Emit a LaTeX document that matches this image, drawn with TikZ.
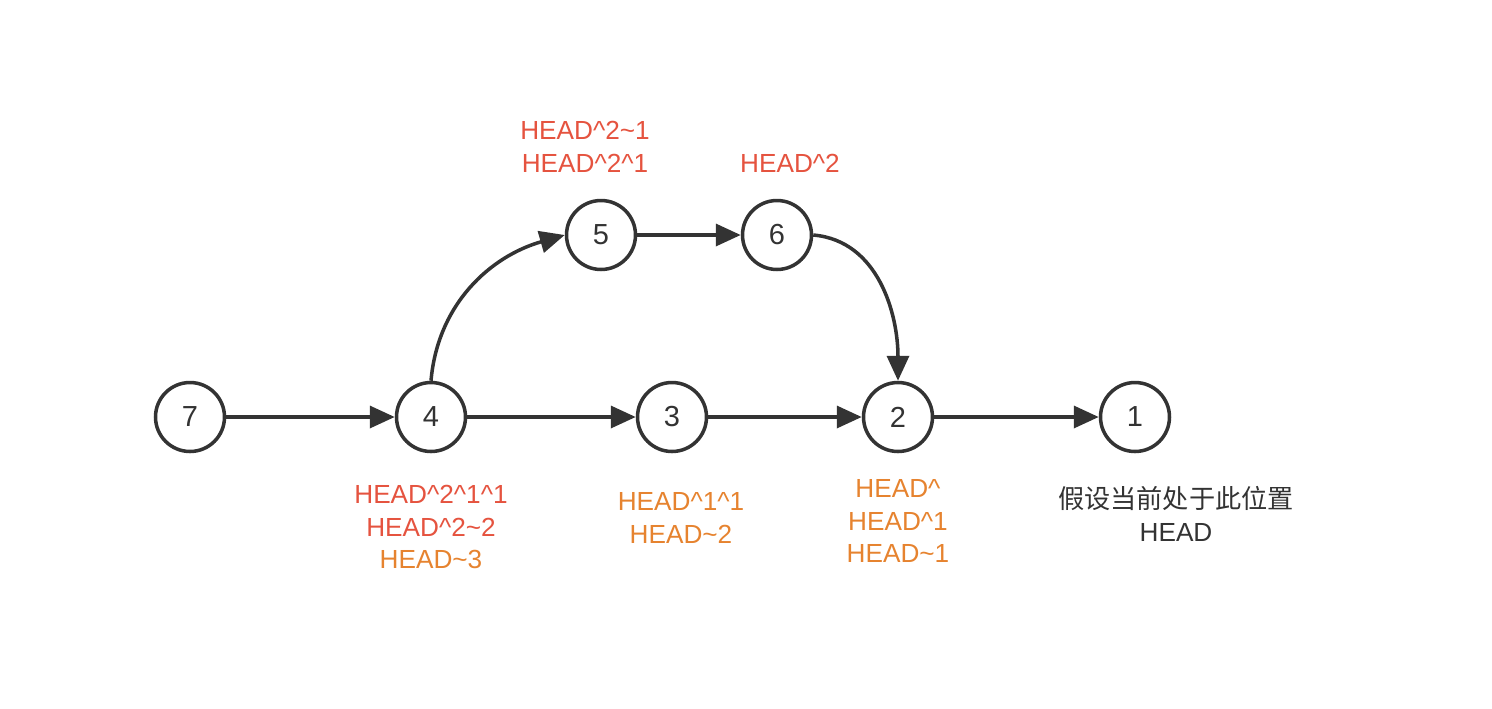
\documentclass[tikz,border=0pt]{standalone}
\usepackage{fontspec}
\setmainfont{Liberation Sans}
\newfontfamily\cjk{Noto Sans CJK SC}
\usetikzlibrary{arrows.meta}
\definecolor{linec}{HTML}{333333}
\definecolor{redc}{HTML}{E5533F}
\definecolor{orangec}{HTML}{E6832F}
\begin{document}
\begin{tikzpicture}[x=0.02cm,y=-0.02cm,
  commit/.style={circle,draw=linec,line width=2pt,minimum size=1.38cm,inner sep=0pt,
    font=\fontsize{16.5}{19}\selectfont,text=linec,fill=white},
  lbl/.style={align=center,font=\fontsize{14.9}{18.7}\selectfont,inner sep=0pt},
  conn/.style={draw=linec,line width=2pt,-{Triangle[length=0.5cm,width=0.44cm]}}]
\useasboundingbox (0,0) rectangle (1492,708);
\node[commit] (n7) at (190,417) {7};
\node[commit] (n4) at (431,417) {4};
\node[commit] (n3) at (672,417) {3};
\node[commit] (n2) at (898,417) {2};
\node[commit] (n1) at (1135,417) {1};
\node[commit] (n5) at (601,235) {5};
\node[commit] (n6) at (777,235) {6};
\draw[conn] (n7) -- (n4);
\draw[conn] (n4) -- (n3);
\draw[conn] (n3) -- (n2);
\draw[conn] (n2) -- (n1);
\draw[conn] (n5) -- (n6);
\draw[conn] (n4.north) to[out=85,in=196] (n5.west);
\draw[conn] (n6.east) to[out=-5,in=90] (n2.north);
\node[lbl,text=redc] (l5) at (585,147) {HEAD\textasciicircum 2\textasciitilde 1\\HEAD\textasciicircum 2\textasciicircum 1};
\node[lbl,text=redc] (l6) at (790,163) {HEAD\textasciicircum 2};
\node[lbl] (l4) at (431,527) {\textcolor{redc}{HEAD\textasciicircum 2\textasciicircum 1\textasciicircum 1}\\\textcolor{redc}{HEAD\textasciicircum 2\textasciitilde 2}\\\textcolor{orangec}{HEAD\textasciitilde 3}};
\node[lbl,text=orangec] (l3) at (681,518) {HEAD\textasciicircum 1\textasciicircum 1\\HEAD\textasciitilde 2};
\node[lbl,text=orangec] (l2) at (898,521) {HEAD\textasciicircum\\HEAD\textasciicircum 1\\HEAD\textasciitilde 1};
\node[lbl,text=linec] (l1) at (1176,514) {{\cjk 假设当前处于此位置}\\HEAD};
\end{tikzpicture}
\end{document}
